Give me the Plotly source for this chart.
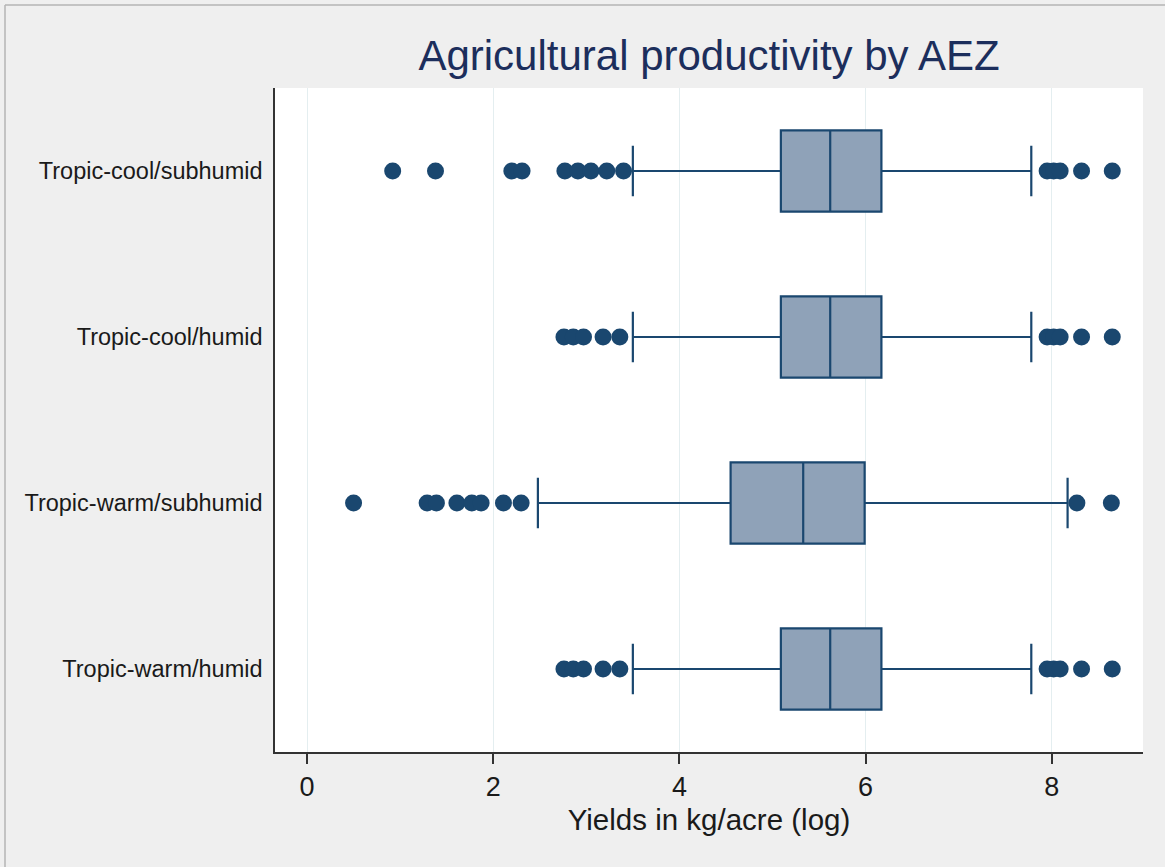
import plotly.graph_objects as go

# Agro-ecological zones, listed top to bottom
CATEGORIES = [
    "Tropic-cool/subhumid",
    "Tropic-cool/humid",
    "Tropic-warm/subhumid",
    "Tropic-warm/humid",
]

# Box statistics of log yields (kg/acre) per zone
Q1 = [5.09, 5.09, 4.55, 5.09]
MEDIAN = [5.62, 5.62, 5.33, 5.62]
Q3 = [6.17, 6.17, 5.99, 6.17]
LOWER_ADJ = [3.50, 3.50, 2.48, 3.50]
UPPER_ADJ = [7.78, 7.78, 8.17, 7.78]

# Outside values per zone
OUT_COOL_SUBHUMID = [0.92, 1.38, 2.20, 2.31, 2.77, 2.91, 3.05, 3.22, 3.40,
                     7.95, 8.02, 8.09, 8.32, 8.65]
OUT_COOL_HUMID = [2.76, 2.86, 2.97, 3.18, 3.36,
                  7.95, 8.02, 8.09, 8.32, 8.65]
OUT_WARM_SUBHUMID = [0.50, 1.29, 1.39, 1.61, 1.77, 1.87, 2.11, 2.30,
                     8.27, 8.64]
OUT_WARM_HUMID = [2.76, 2.86, 2.97, 3.18, 3.36,
                  7.95, 8.02, 8.09, 8.32, 8.65]

X_TICKS = [0, 2, 4, 6, 8]

NAVY = "#1a476f"
BOX_FILL = "#8fa2b8"
FONT = "Liberation Sans, Arial, Helvetica, sans-serif"

fig = go.Figure()

fig.add_trace(go.Box(
    y=CATEGORIES,
    q1=Q1, median=MEDIAN, q3=Q3,
    lowerfence=LOWER_ADJ, upperfence=UPPER_ADJ,
    orientation="h",
    fillcolor=BOX_FILL,
    line=dict(color=NAVY, width=2.2),
    whiskerwidth=0.62,
    width=0.49,
    boxpoints=False,
    hoverinfo="skip",
    showlegend=False,
))

outliers = [OUT_COOL_SUBHUMID, OUT_COOL_HUMID, OUT_WARM_SUBHUMID, OUT_WARM_HUMID]
out_x, out_y = [], []
for cat, vals in zip(CATEGORIES, outliers):
    out_x.extend(vals)
    out_y.extend([cat] * len(vals))

fig.add_trace(go.Scatter(
    x=out_x, y=out_y,
    mode="markers",
    marker=dict(color=NAVY, size=17, line=dict(width=0)),
    showlegend=False,
    hoverinfo="x",
))

fig.update_layout(
    width=1165, height=867,
    margin=dict(l=275, r=22, t=88, b=115),
    paper_bgcolor="#efefef",
    plot_bgcolor="#ffffff",
    font=dict(family=FONT, color="#1a1a1a"),
    title=dict(
        text="Agricultural productivity by AEZ",
        x=0.5, xref="paper", xanchor="center",
        y=1 - 55 / 867, yref="container", yanchor="middle",
        font=dict(size=42, color="#1c2e5c", family=FONT),
    ),
    xaxis=dict(
        range=[-0.344, 8.98],
        tickvals=X_TICKS,
        ticktext=[str(v) for v in X_TICKS],
        ticks="outside", ticklen=10, tickwidth=1.5, tickcolor="#333333",
        tickfont=dict(size=27, color="#1a1a1a"),
        showgrid=True, gridcolor="#e4eef0", gridwidth=1,
        zeroline=False,
        showline=True, linecolor="#333333", linewidth=1.5,
        title=dict(text="Yields in kg/acre (log)",
                   font=dict(size=29.5, color="#1a1a1a"), standoff=8),
    ),
    yaxis=dict(
        type="category",
        categoryorder="array",
        categoryarray=CATEGORIES[::-1],
        range=[-0.5, 3.5],
        ticks="outside", ticklen=6, tickcolor="rgba(0,0,0,0)",
        tickfont=dict(size=23.5, color="#1a1a1a"),
        showgrid=False, zeroline=False,
        showline=True, linecolor="#333333", linewidth=1.5,
    ),
    shapes=[
        # thin frame around the graph window
        dict(type="line", xref="paper", yref="paper",
             x0=(5 - 275) / 868, x1=(1165 - 275) / 868,
             y0=(752 - 5) / 664, y1=(752 - 5) / 664,
             line=dict(color="#b5b5b5", width=1.5), layer="below"),
        dict(type="line", xref="paper", yref="paper",
             x0=(5 - 275) / 868, x1=(5 - 275) / 868,
             y0=(752 - 5) / 664, y1=(752 - 867) / 664,
             line=dict(color="#b5b5b5", width=1.5), layer="below"),
    ],
)

fig.write_html("out.html")
